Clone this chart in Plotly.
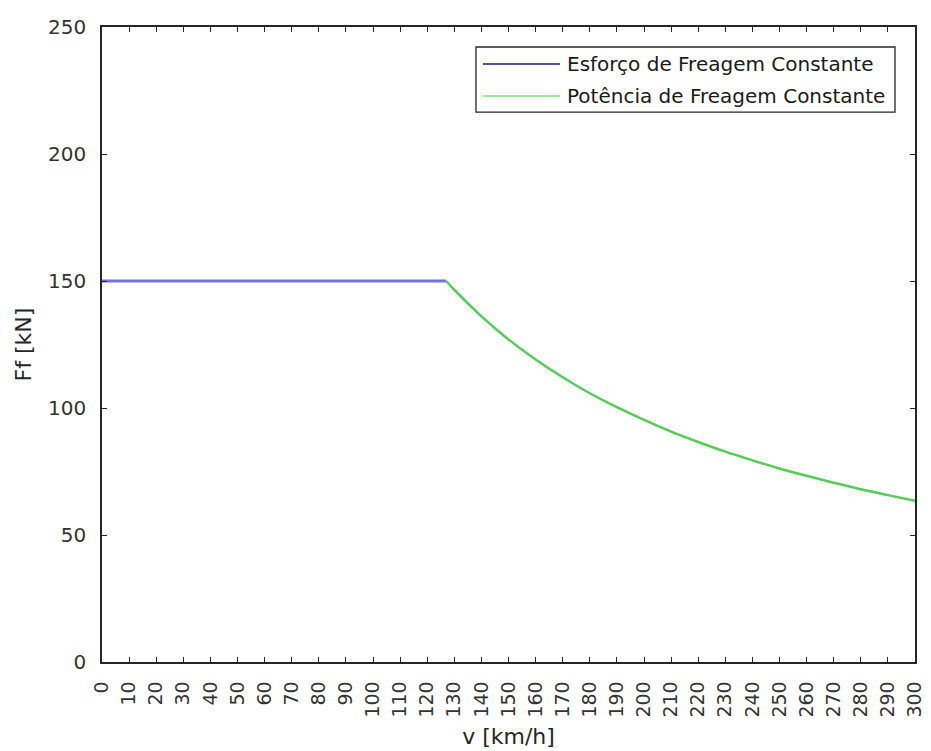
import plotly.graph_objects as go

# Data
v_const = [0, 127]
F_const = [150, 150]

v_power = [127, 130, 140, 150, 160, 170, 180, 190, 200, 210, 220, 230, 240, 250, 260, 270, 280, 290, 300]
F_power = [150, 146.5, 136.1, 127.0, 119.1, 112.1, 105.8, 100.3, 95.3, 90.7, 86.6, 82.8, 79.4, 76.2, 73.3, 70.6, 68.0, 65.7, 63.5]

x_ticks = list(range(0, 301, 10))
y_ticks = [0, 50, 100, 150, 200, 250]

series_names = ["Esforço de Freagem Constante", "Potência de Freagem Constante"]
legend_colors = ["#1c1c66", "#80dd80"]

AX = "#262626"
FONT = "DejaVu Sans, Arial, sans-serif"

fig = go.Figure()
fig.add_trace(go.Scatter(x=v_const, y=F_const, mode="lines", name=series_names[0],
                         line=dict(color="#7272dc", width=3), showlegend=False))
fig.add_trace(go.Scatter(x=v_power, y=F_power, mode="lines", name=series_names[1],
                         line=dict(color="#55cc55", width=2.5, shape="spline"), showlegend=False))

fig.update_layout(
    width=931, height=751,
    margin=dict(l=102, r=16, t=27, b=89),
    paper_bgcolor="white", plot_bgcolor="white",
    font=dict(family=FONT, color=AX),
)
fig.update_xaxes(range=[0, 300], tickvals=x_ticks, ticktext=[str(t) for t in x_ticks],
                 tickangle=-90, ticks="inside", ticklen=5, tickcolor=AX, ticklabelstandoff=10,
                 showline=True, linecolor=AX, linewidth=1.5, mirror="ticks", automargin=False,
                 showgrid=False, zeroline=False, tickfont=dict(size=19, color="#333333"),
                 title=dict(text="v [km/h]", font=dict(size=22, color=AX), standoff=12))
fig.update_yaxes(range=[0, 250], tickvals=y_ticks, ticks="inside", ticklen=5, tickcolor=AX,
                 ticklabelstandoff=10, automargin=False,
                 showline=True, linecolor=AX, linewidth=1.5, mirror="ticks",
                 showgrid=False, zeroline=False, tickfont=dict(size=20, color="#333333"),
                 title=dict(text="Ff [kN]", font=dict(size=22, color=AX), standoff=10))

# Legend box (drawn manually to match MATLAB style)
lx0, lx1, ly0, ly1 = 0.460, 0.9754, 0.8661, 0.9685
fig.add_shape(type="rect", xref="paper", yref="paper", x0=lx0, x1=lx1, y0=ly0, y1=ly1,
              line=dict(color=AX, width=1.3), fillcolor="white", layer="above")
rows_y = [0.9417, 0.8913]
for name, col, ry in zip(series_names, legend_colors, rows_y):
    fig.add_shape(type="line", xref="paper", yref="paper", x0=0.4686, x1=0.5633, y0=ry, y1=ry,
                  line=dict(color=col, width=1.5), layer="above")
    fig.add_annotation(xref="paper", yref="paper", x=0.5695, y=ry, text=name, showarrow=False,
                       xanchor="left", yanchor="middle", font=dict(size=20, color="#1a1a1a", family=FONT))

fig.write_html("out.html")
